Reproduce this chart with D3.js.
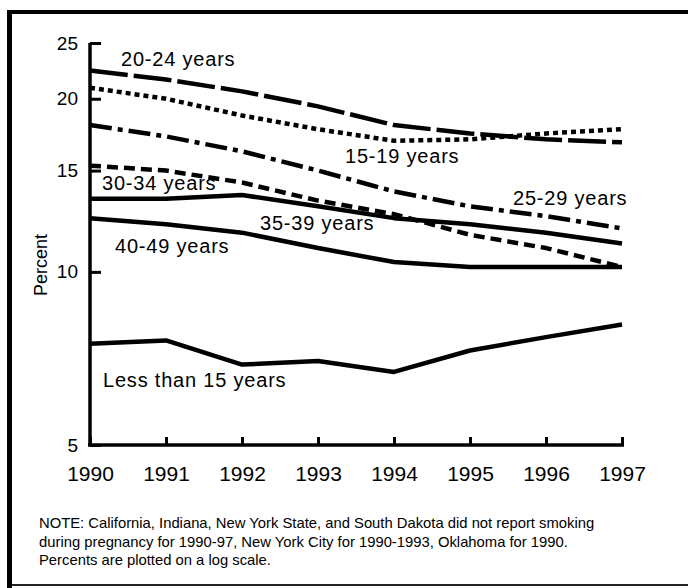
<!DOCTYPE html>
<html><head><meta charset="utf-8">
<script src="https://cdn.jsdelivr.net/npm/d3@7"></script>
<style>
html,body{margin:0;padding:0;background:#fff;}
svg{display:block;font-family:"Liberation Sans",Arial,Helvetica,sans-serif;}
</style></head>
<body><svg id="c" width="688" height="588"></svg>
<script>
const years = [1990, 1991, 1992, 1993, 1994, 1995, 1996, 1997];
const yTicks = [5, 10, 15, 20, 25];
const age20to24 = [22.4, 21.6, 20.6, 19.4, 18.0, 17.4, 17.0, 16.8];
const age15to19 = [20.9, 20.0, 18.7, 17.7, 16.9, 17.0, 17.4, 17.7];
const age25to29 = [18.0, 17.2, 16.2, 15.0, 13.8, 13.0, 12.5, 11.9];
const age35to39 = [15.3, 15.0, 14.3, 13.3, 12.6, 11.6, 11.0, 10.2];
const age30to34 = [13.4, 13.4, 13.6, 13.0, 12.4, 12.1, 11.7, 11.2];
const age40to49 = [12.4, 12.1, 11.7, 11.0, 10.4, 10.2, 10.2, 10.2];
const ageUnder15 = [7.5, 7.6, 6.9, 7.0, 6.7, 7.3, 7.7, 8.1];
const seriesNames = ["20-24 years","15-19 years","25-29 years","35-39 years","30-34 years","40-49 years","Less than 15 years"];
const yLabel = "Percent";
const noteLines = [
  "NOTE: California, Indiana, New York State, and South Dakota did not report smoking",
  "during pregnancy for 1990-97, New York City for 1990-1993, Oklahoma for 1990.",
  "Percents are plotted on a log scale."
];

const series = [
  {name: seriesNames[0], values: age20to24, dash: "38,6"},
  {name: seriesNames[1], values: age15to19, dash: "5,4"},
  {name: seriesNames[2], values: age25to29, dash: "22,6,5,6"},
  {name: seriesNames[3], values: age35to39, dash: "11,6"},
  {name: seriesNames[4], values: age30to34, dash: null},
  {name: seriesNames[5], values: age40to49, dash: null},
  {name: seriesNames[6], values: ageUnder15, dash: null}
];
// label positions (layout only)
const labelPos = [[121,66],[345,163],[513,205],[260,230],[102,190],[115,253],[103,387]];

const svg = d3.select("#c");
// frame
svg.append("rect").attr("x",7).attr("y",10).attr("width",681).attr("height",4).attr("fill","#000");
svg.append("rect").attr("x",7).attr("y",10).attr("width",5).attr("height",578).attr("fill","#000");
svg.append("rect").attr("x",12).attr("y",584).attr("width",676).attr("height",2).attr("fill","#222");

const x = d3.scalePoint().domain(years).range([90, 622]);
const y = d3.scaleLog().domain([5, 25]).range([445, 43]);

// y axis
const yAxis = d3.axisLeft(y).tickValues(yTicks).tickFormat(d3.format("d")).tickSize(-11).tickPadding(12);
const gy = svg.append("g").attr("transform","translate(90,0)").call(yAxis);
gy.select(".domain").attr("stroke","#000").attr("stroke-width",3.5).attr("d","M0,43V446");
gy.selectAll(".tick line").attr("stroke","#000").attr("stroke-width",3);
gy.selectAll(".tick text").attr("font-size",19).attr("fill","#000").attr("font-family","Liberation Sans, Arial, sans-serif");

// x axis
const xAxis = d3.axisBottom(x).tickSize(-8).tickPadding(21);
const gx = svg.append("g").attr("transform","translate(0,445)").call(xAxis);
gx.select(".domain").attr("stroke","#000").attr("stroke-width",3.5).attr("d","M88,0H624");
gx.selectAll(".tick line").attr("stroke","#000").attr("stroke-width",3);
gx.selectAll(".tick text").attr("font-size",21).attr("fill","#000").attr("font-family","Liberation Sans, Arial, sans-serif");

// lines
const line = d3.line().x((d,i)=>x(years[i])).y(d=>y(d));
svg.append("g").selectAll("path").data(series).join("path")
  .attr("d", d=>line(d.values))
  .attr("fill","none").attr("stroke","#000").attr("stroke-width",4.5)
  .attr("stroke-dasharray", d=>d.dash)
  .attr("stroke-linejoin","round");

// labels
svg.append("g").selectAll("text").data(series).join("text")
  .attr("x",(d,i)=>labelPos[i][0]).attr("y",(d,i)=>labelPos[i][1])
  .attr("font-size",20).attr("letter-spacing",0.8).attr("fill","#000")
  .text(d=>d.name);

// y label
svg.append("text").attr("transform","translate(47,265) rotate(-90)")
  .attr("text-anchor","middle").attr("font-size",18).attr("fill","#000").text(yLabel);

// note
svg.append("g").selectAll("text").data(noteLines).join("text")
  .attr("x",39).attr("y",(d,i)=>528+i*18.5)
  .attr("font-size",14.8).attr("fill","#000")
  .text(d=>d);
</script></body></html>
